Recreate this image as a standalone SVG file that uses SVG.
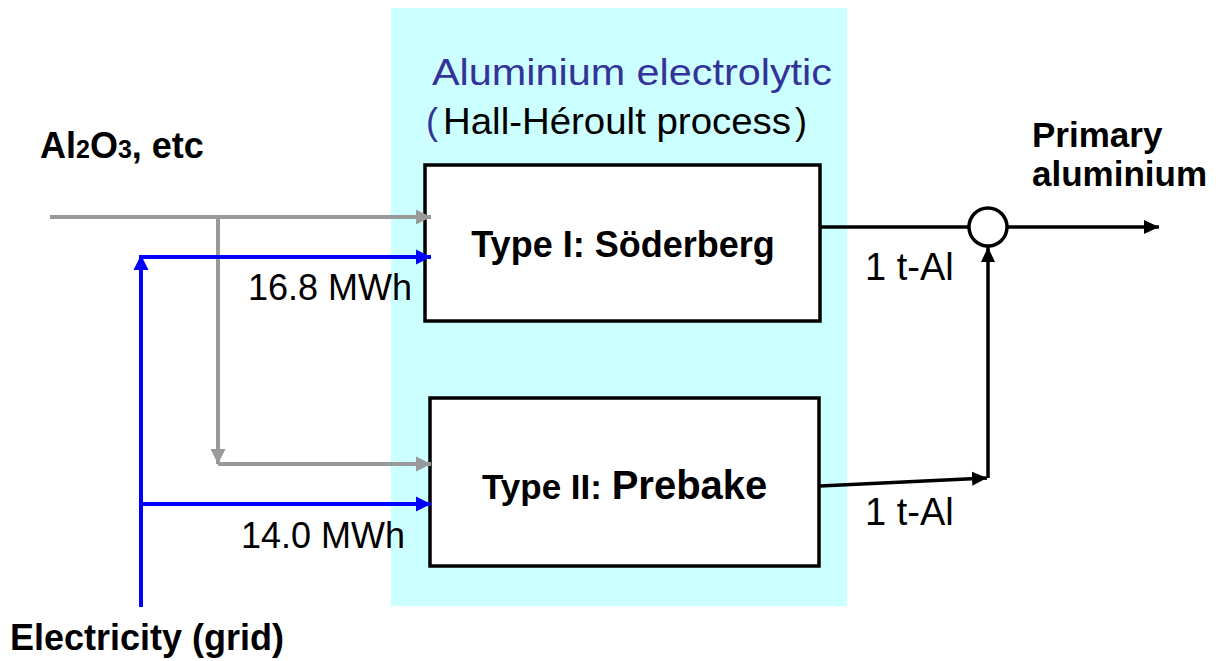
<svg xmlns="http://www.w3.org/2000/svg" width="1229" height="661" viewBox="0 0 1229 661">
<style>
.lbl{font-family:"Liberation Sans",Arial,sans-serif;fill:#000}
.b{font-weight:bold}
.ttl{fill:#333399}
.box{fill:#fff;stroke:#000;stroke-width:3.5}
.g{stroke:#999;stroke-width:4;fill:none}
.bl{stroke:#0000ff;stroke-width:4;fill:none}
.k{stroke:#000;stroke-width:3.5;fill:none}
</style>
<defs>
<marker id="ag" markerUnits="userSpaceOnUse" markerWidth="16" markerHeight="16" refX="15" refY="8" orient="auto"><path d="M0,0.5 L15,8 L0,15.5 z" fill="#999"/></marker>
<marker id="ab" markerUnits="userSpaceOnUse" markerWidth="16" markerHeight="16" refX="15" refY="8" orient="auto"><path d="M0,0.5 L15,8 L0,15.5 z" fill="#0000ff"/></marker>
<marker id="ak" markerUnits="userSpaceOnUse" markerWidth="16" markerHeight="16" refX="15" refY="8" orient="auto"><path d="M0,1 L15,8 L0,15 z" fill="#000"/></marker>
</defs>
<rect x="391" y="8" width="456" height="598" fill="#ccffff"/>
<g id="title">
<text class="lbl ttl" x="432" y="85" font-size="36" textLength="400" lengthAdjust="spacingAndGlyphs">Aluminium electrolytic</text>
<text class="lbl ttl" x="426" y="134" font-size="36">(</text>
<text class="lbl" x="443" y="134" font-size="36" textLength="348" lengthAdjust="spacingAndGlyphs">Hall-Héroult process</text>
<text class="lbl" x="795" y="134" font-size="36">)</text>
</g>
<g id="type1">
<rect class="box" x="425" y="165" width="395" height="156"/>
<text class="lbl b" x="623" y="257" font-size="36" text-anchor="middle">Type I: Söderberg</text>
</g>
<g id="type2">
<rect class="box" x="430" y="398" width="389" height="168"/>
<text class="lbl b" x="482" y="499" font-size="35">Type II: <tspan font-size="40">Prebake</tspan></text>
</g>
<g id="mix">
<circle cx="988" cy="227" r="19" fill="#fff" stroke="#000" stroke-width="3.5"/>
</g>
<g id="alumina">
<text class="lbl b" x="40" y="158" font-size="36">Al<tspan font-size="25">2</tspan>O<tspan font-size="25">3</tspan>, etc</text>
</g>
<g id="electricity">
<text class="lbl b" x="10" y="650" font-size="36">Electricity (grid)</text>
</g>
<g id="primary">
<text class="lbl b" x="1032" y="147" font-size="35">Primary</text>
<text class="lbl b" x="1032" y="186" font-size="35">aluminium</text>
</g>
<g id="connectors">
<path class="g" d="M50,217 H431" marker-end="url(#ag)"/>
<path class="g" d="M218,217 V464" marker-end="url(#ag)"/>
<path class="g" d="M218,464 H431" marker-end="url(#ag)"/>
<path class="bl" d="M141,607 V255" marker-end="url(#ab)"/>
<path class="bl" d="M139,257 H431" marker-end="url(#ab)"/>
<path class="bl" d="M141,504 H431" marker-end="url(#ab)"/>
<path class="k" d="M820,227 H969"/>
<path class="k" d="M1007,227 H1159" marker-end="url(#ak)"/>
<path class="k" d="M820,486 L987,478" marker-end="url(#ak)"/>
<path class="k" d="M988,478 V247" marker-end="url(#ak)"/>
<text class="lbl" x="248" y="300" font-size="36">16.8 MWh</text>
<text class="lbl" x="241" y="548" font-size="36">14.0 MWh</text>
<text class="lbl" x="865" y="280" font-size="38">1 t-Al</text>
<text class="lbl" x="865" y="525" font-size="38">1 t-Al</text>
</g>
</svg>
